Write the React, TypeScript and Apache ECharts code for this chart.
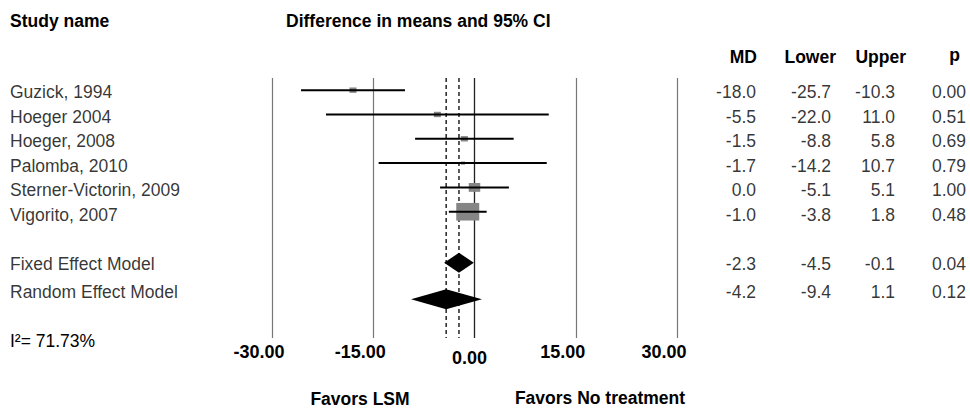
import React, { useEffect, useRef } from "react";
import * as echarts from "echarts";

// ---- data ----
const studies = [
  "Guzick, 1994",
  "Hoeger 2004",
  "Hoeger, 2008",
  "Palomba, 2010",
  "Sterner-Victorin, 2009",
  "Vigorito, 2007",
];
const md = [-18.0, -5.5, -1.5, -1.7, 0.0, -1.0];
const lower = [-25.7, -22.0, -8.8, -14.2, -5.1, -3.8];
const upper = [-10.3, 11.0, 5.8, 10.7, 5.1, 1.8];
const pValues = [0.0, 0.51, 0.69, 0.79, 1.0, 0.48];
// relative study weights (%), estimated from the square areas
const weights = [6, 6, 6, 2, 16, 64];

const models = ["Fixed Effect Model", "Random Effect Model"];
const modelMd = [-2.3, -4.2];
const modelLower = [-4.5, -9.4];
const modelUpper = [-0.1, 1.1];
const modelP = [0.04, 0.12];

const heterogeneity = "I\u00B2= 71.73%";
const columnHeaders = ["MD", "Lower", "Upper", "p"];
const xMin = -30;
const xMax = 30;
const xInterval = 15;

// ---- layout ----
const FONT = "'Liberation Sans', Arial, Helvetica, sans-serif";
const PLOT_ROWS = [0, 1, 2, 3, 4, 5, 7.1, 8.6];
const TEXT_ROWS = [0, 1, 2, 3, 4, 5, 7, 8.15];
const COL_RIGHT = [756, 831, 895, 966];
const HEADER_RIGHT = [757, 836, 906, 960];
const Y_TOP = -0.5;
const Y_BOTTOM = 10.193;

export default function App() {
  const ref = useRef<HTMLDivElement>(null);

  useEffect(() => {
    if (!ref.current) return;
    const chart = echarts.init(ref.current, undefined, { renderer: "svg" });

    const allNames = [...studies, ...models];
    const allMd = [...md, ...modelMd];
    const allLower = [...lower, ...modelLower];
    const allUpper = [...upper, ...modelUpper];
    const allP = [...pValues, ...modelP];
    const columns = [
      allMd.map((v) => v.toFixed(1)),
      allLower.map((v) => v.toFixed(1)),
      allUpper.map((v) => v.toFixed(1)),
      allP.map((v) => v.toFixed(2)),
    ];

    const sq = (w: number) => {
      const s = 2.5 * Math.sqrt(w);
      return [s * 1.15, s * 0.88];
    };

    const textLabel = {
      show: true,
      color: "#000",
      fontSize: 17.5,
      fontFamily: FONT,
      formatter: "{b}",
      distance: 0,
    };

    const pooledLines = modelMd.map((m) => ({
      type: "line",
      xAxisIndex: 0,
      yAxisIndex: 0,
      silent: true,
      symbol: "none",
      data: [
        [m, Y_TOP],
        [m, Y_BOTTOM],
      ],
      lineStyle: { color: "#000", width: 1.3, type: [4, 3] },
      z: 2,
    }));

    const option: any = {
      animation: false,
      backgroundColor: "#fff",
      grid: [
        { left: 272, top: 78, width: 405, height: 260 },
        { left: 0, top: 79.95, width: 970, height: 232.75 },
      ],
      xAxis: [
        {
          type: "value",
          gridIndex: 0,
          min: xMin,
          max: xMax,
          interval: xInterval,
          axisLine: { show: false },
          axisTick: { show: false },
          splitLine: { show: true, lineStyle: { color: "#777", width: 1.2 } },
          axisLabel: {
            margin: 5,
            color: "#000",
            fontSize: 18,
            fontWeight: "bold",
            fontFamily: FONT,
            formatter: (v: number) =>
              v === 0 ? `{z|${v.toFixed(2)}}` : `{a|${v.toFixed(2)}}`,
            rich: {
              a: {
                fontSize: 18,
                fontWeight: "bold",
                fontFamily: FONT,
                color: "#000",
                padding: [0, 26, 0, 0],
              },
              z: {
                fontSize: 18,
                fontWeight: "bold",
                fontFamily: FONT,
                color: "#000",
                padding: [6, 10, 0, 0],
              },
            },
          },
        },
        { type: "value", gridIndex: 1, min: 0, max: 970, show: false },
      ],
      yAxis: [
        {
          type: "value",
          gridIndex: 0,
          inverse: true,
          min: Y_TOP,
          max: Y_BOTTOM,
          show: false,
        },
        {
          type: "value",
          gridIndex: 1,
          inverse: true,
          min: -0.5,
          max: 9,
          show: false,
        },
      ],
      graphic: [
        {
          type: "text",
          left: 10,
          top: 12,
          style: {
            text: "Study name",
            fill: "#000",
            font: `bold 17.5px ${FONT}`,
          },
        },
        {
          type: "text",
          left: 286,
          top: 12,
          style: {
            text: "Difference in means and 95% CI",
            fill: "#000",
            font: `bold 17.5px ${FONT}`,
          },
        },
        ...columnHeaders.map((h, i) => ({
          type: "text",
          x: HEADER_RIGHT[i],
          y: h === "p" ? 55 : 56.7,
          style: {
            text: h,
            fill: "#000",
            font: `bold 17.5px ${FONT}`,
            textAlign: "right",
            textVerticalAlign: "middle",
          },
        })),
        {
          type: "text",
          x: 10,
          y: 341,
          style: {
            text: heterogeneity,
            fill: "#000",
            font: `17.5px ${FONT}`,
            textVerticalAlign: "middle",
          },
        },
        {
          type: "text",
          x: 360,
          y: 399,
          style: {
            text: "Favors LSM",
            fill: "#000",
            font: `bold 17.5px ${FONT}`,
            lineHeight: 18,
            textAlign: "center",
            textVerticalAlign: "middle",
          },
        },
        {
          type: "text",
          x: 600,
          y: 398,
          style: {
            text: "Favors No treatment",
            fill: "#000",
            font: `bold 17.5px ${FONT}`,
            lineHeight: 18,
            textAlign: "center",
            textVerticalAlign: "middle",
          },
        },
      ],
      series: [
        ...pooledLines,
        {
          type: "line",
          xAxisIndex: 0,
          yAxisIndex: 0,
          silent: true,
          symbol: "none",
          data: [
            [0, Y_TOP],
            [0, Y_BOTTOM],
          ],
          lineStyle: { color: "#222", width: 1.2 },
          z: 2,
        },
        {
          type: "scatter",
          xAxisIndex: 0,
          yAxisIndex: 0,
          silent: true,
          symbol: "rect",
          data: studies.map((_, i) => ({
            value: [md[i], PLOT_ROWS[i]],
            symbolSize: sq(weights[i]),
          })),
          itemStyle: { color: "#858585", opacity: 1 },
          z: 3,
        },
        {
          type: "custom",
          xAxisIndex: 0,
          yAxisIndex: 0,
          silent: true,
          data: studies.map((_, i) => [lower[i], upper[i], PLOT_ROWS[i]]),
          encode: { x: [0, 1], y: 2 },
          renderItem: (params: any, api: any) => {
            const a = api.coord([api.value(0), api.value(2)]);
            const b = api.coord([api.value(1), api.value(2)]);
            return {
              type: "line",
              shape: { x1: a[0], y1: a[1], x2: b[0], y2: b[1] },
              style: { stroke: "#000", lineWidth: 2 },
            };
          },
          z: 4,
        },
        {
          type: "custom",
          xAxisIndex: 0,
          yAxisIndex: 0,
          silent: true,
          data: models.map((_, i) => [
            modelLower[i],
            modelMd[i],
            modelUpper[i],
            PLOT_ROWS[6 + i],
          ]),
          encode: { x: [0, 1, 2], y: 3 },
          renderItem: (params: any, api: any) => {
            const row = api.value(3);
            const l = api.coord([api.value(0), row]);
            const m = api.coord([api.value(1), row]);
            const u = api.coord([api.value(2), row]);
            const h = 10;
            return {
              type: "polygon",
              shape: {
                points: [
                  [l[0], l[1]],
                  [m[0], m[1] - h],
                  [u[0], u[1]],
                  [m[0], m[1] + h],
                ],
              },
              style: { fill: "#000" },
            };
          },
          z: 5,
        },
        {
          type: "scatter",
          xAxisIndex: 1,
          yAxisIndex: 1,
          silent: true,
          symbolSize: 0,
          data: allNames.map((name, i) => ({ name, value: [10, TEXT_ROWS[i]] })),
          label: { ...textLabel, position: "right" },
        },
        ...columns.map((col, c) => ({
          type: "scatter",
          xAxisIndex: 1,
          yAxisIndex: 1,
          silent: true,
          symbolSize: 0,
          data: col.map((txt, i) => ({
            name: txt,
            value: [COL_RIGHT[c], TEXT_ROWS[i]],
          })),
          label: { ...textLabel, position: "left" },
        })),
      ],
    };

    chart.setOption(option);
    return () => chart.dispose();
  }, []);

  return (
    <div
      ref={ref}
      style={{ position: "fixed", left: 0, top: 0, width: 970, height: 409 }}
    />
  );
}
